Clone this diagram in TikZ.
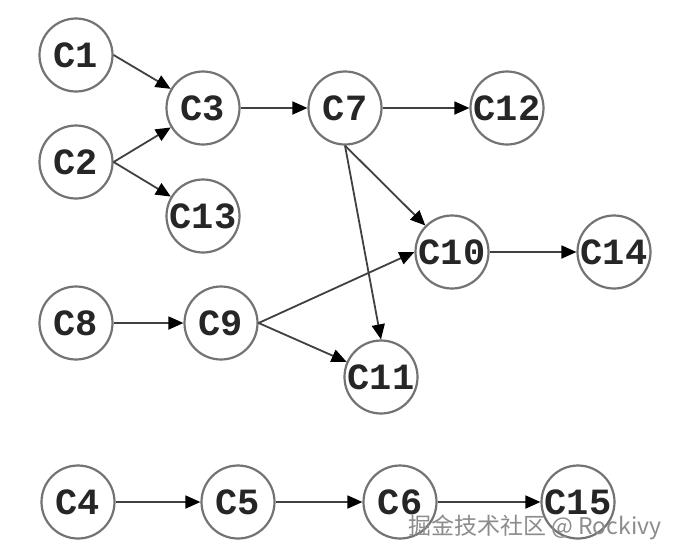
\documentclass[tikz,border=0pt]{standalone}
\usepackage{fontspec}
\newfontfamily\nodefont{Liberation Mono}
\newfontfamily\cjkfont{Noto Sans CJK SC}
\usetikzlibrary{arrows.meta}
\tikzset{
  cnode/.style={circle, draw=black!55, line width=2.2pt, minimum size=73pt, inner sep=0pt, fill=white,
    font=\nodefont\bfseries\fontsize{37}{37}\selectfont, text=black!85},
  edge/.style={line width=1.8pt, draw=black!75, -{Triangle[length=15pt,width=13pt,color=black]}},
}
\newcommand{\lbl}[1]{\makebox[0pt]{#1}}
\begin{document}
\begin{tikzpicture}[x=1pt,y=-1pt]
\useasboundingbox[fill=white] (0,0) rectangle (693,558);
\node[cnode] (C1) at (76,55) {\lbl{C1}};
\node[cnode] (C2) at (76,162) {\lbl{C2}};
\node[cnode] (C3) at (203,108) {\lbl{C3}};
\node[cnode] (C13) at (203,216) {\lbl{C13}};
\node[cnode] (C7) at (345,108) {\lbl{C7}};
\node[cnode] (C12) at (507,108) {\lbl{C12}};
\node[cnode] (C10) at (452,252) {\lbl{C10}};
\node[cnode] (C14) at (614,252) {\lbl{C14}};
\node[cnode] (C8) at (76,323) {\lbl{C8}};
\node[cnode] (C9) at (221,323) {\lbl{C9}};
\node[cnode] (C11) at (381,377) {\lbl{C11}};
\node[cnode] (C4) at (78,502) {\lbl{C4}};
\node[cnode] (C5) at (238,502) {\lbl{C5}};
\node[cnode] (C6) at (400,502) {\lbl{C6}};
\node[cnode] (C15) at (578,502) {\lbl{C15}};

\draw[edge] (C1.east) -- (C3);
\draw[edge] (C2.east) -- (C3);
\draw[edge] (C2.east) -- (C13);
\draw[edge] (C3) -- (C7);
\draw[edge] (C7) -- (C12);
\draw[edge] (C7.south) -- (C10);
\draw[edge] (C7.south) -- (C11.north);
\draw[edge] (C8) -- (C9);
\draw[edge] (C9.east) -- (C10.west);
\draw[edge] (C9.east) -- (C11);
\draw[edge] (C10) -- (C14);
\draw[edge] (C4) -- (C5);
\draw[edge] (C5) -- (C6);
\draw[edge] (C6) -- (C15);

\node[anchor=west, inner sep=0pt, text=black!45, font=\cjkfont\fontsize{23}{23}\selectfont] (wm) at (408,527) {掘金技术社区 @ Rockivy};
\end{tikzpicture}
\end{document}
